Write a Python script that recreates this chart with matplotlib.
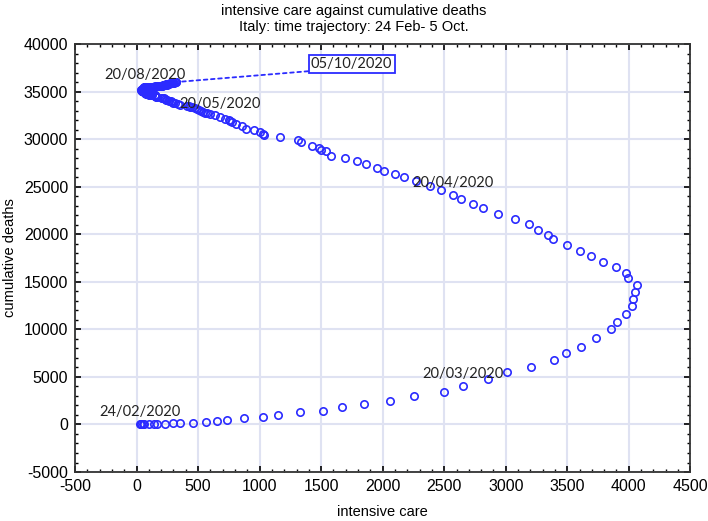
import numpy as np
import pandas as pd
import matplotlib
matplotlib.use("Agg")
import matplotlib.pyplot as plt
from matplotlib.ticker import MultipleLocator

# daily values, Italy, 24 Feb - 5 Oct 2020 (per month)
icu_feb = [27, 35, 36, 56, 64, 105]
icu_mar = [140, 166, 229, 295, 351, 462, 567, 650, 733, 877, 1028, 1153, 1328, 1518, 1672, 1851,
           2060, 2257, 2498, 2655, 2857, 3009, 3204, 3396, 3489, 3612, 3732, 3856, 3906, 3981, 4023]
icu_apr = [4035, 4053, 4068, 3994, 3977, 3898, 3792, 3693, 3605, 3497, 3381, 3343, 3260, 3186, 3079,
           2936, 2812, 2733, 2635, 2573, 2471, 2384, 2267, 2173, 2102, 2009, 1956, 1863, 1795, 1694]
icu_may = [1578, 1539, 1501, 1479, 1427, 1333, 1311, 1168, 1034, 1027, 999, 952, 893, 855, 808, 775,
           762, 749, 716, 676, 640, 595, 572, 553, 541, 521, 505, 489, 475, 450, 435]
icu_jun = [424, 408, 353, 338, 316, 293, 287, 283, 263, 249, 236, 227, 220, 209, 207, 168, 161, 152,
           148, 151, 148, 127, 115, 107, 103, 97, 94, 90, 86, 87]
icu_jul = [79, 77, 74, 71, 69, 68, 71, 72, 65, 64, 65, 62, 66, 65, 67, 57, 60, 60, 56, 49, 48, 49, 49,
           46, 45, 45, 44, 43, 41, 41, 42]
icu_aug = [41, 40, 38, 41, 42, 45, 49, 48, 46, 53, 54, 55, 56, 56, 55, 58, 58, 63, 66, 68, 69, 69, 64,
           66, 69, 74, 79, 86, 94, 107, 109]
icu_sep = [121, 120, 133, 142, 143, 150, 164, 164, 175, 182, 190, 197, 201, 207, 208, 215, 221, 222,
           220, 232, 239, 244, 239, 246, 254, 246, 264, 271, 280, 291]
icu_oct = [297, 303, 309, 319, 323]

deaths_feb = [7, 10, 12, 17, 21, 29]
deaths_mar = [34, 52, 79, 107, 148, 197, 233, 366, 463, 631, 827, 1016, 1266, 1441, 1809, 2158, 2503,
              2978, 3405, 4032, 4825, 5476, 6077, 6820, 7503, 8165, 9134, 10023, 10779, 11591, 12428]
deaths_apr = [13155, 13915, 14681, 15362, 15887, 16523, 17127, 17669, 18279, 18849, 19468, 19899,
              20465, 21067, 21645, 22170, 22745, 23227, 23660, 24114, 24648, 25085, 25549, 25969,
              26384, 26644, 26977, 27359, 27682, 27967]
deaths_may = [28236, 28710, 28884, 29079, 29315, 29684, 29958, 30201, 30395, 30560, 30739, 30911,
              31106, 31368, 31610, 31763, 31908, 32007, 32169, 32330, 32486, 32616, 32735, 32785,
              32877, 32955, 33072, 33142, 33229, 33340, 33415]
deaths_jun = [33475, 33530, 33601, 33689, 33774, 33846, 33899, 33964, 34043, 34114, 34167, 34223,
              34301, 34345, 34371, 34405, 34448, 34514, 34561, 34610, 34634, 34657, 34675, 34644,
              34678, 34708, 34716, 34738, 34744, 34767]
deaths_jul = [34788, 34818, 34833, 34854, 34861, 34869, 34899, 34914, 34926, 34938, 34945, 34954,
              34967, 34984, 34997, 35017, 35028, 35042, 35045, 35058, 35073, 35082, 35092, 35097,
              35102, 35107, 35112, 35123, 35129, 35132, 35141]
deaths_aug = [35146, 35154, 35166, 35171, 35181, 35187, 35190, 35203, 35205, 35209, 35215, 35225,
              35231, 35234, 35392, 35396, 35400, 35405, 35412, 35418, 35427, 35430, 35437, 35441,
              35445, 35458, 35463, 35472, 35473, 35477, 35483]
deaths_sep = [35491, 35497, 35507, 35518, 35534, 35541, 35553, 35563, 35577, 35587, 35597, 35603,
              35610, 35624, 35633, 35645, 35658, 35668, 35692, 35707, 35724, 35738, 35758, 35781,
              35801, 35818, 35835, 35851, 35875, 35894]
deaths_oct = [35918, 35941, 35968, 35986, 36002]

labelled_dates = ["24/02/2020", "20/03/2020", "20/04/2020", "20/05/2020", "20/08/2020"]
last_label = "05/10/2020"

icu = np.array(icu_feb + icu_mar + icu_apr + icu_may + icu_jun + icu_jul + icu_aug + icu_sep + icu_oct)
deaths = np.array(deaths_feb + deaths_mar + deaths_apr + deaths_may + deaths_jun + deaths_jul
                  + deaths_aug + deaths_sep + deaths_oct)
dates = pd.date_range("2020-02-24", periods=len(icu), freq="D").strftime("%d/%m/%Y").tolist()

plt.rcParams['font.family'] = ['Liberation Sans', 'DejaVu Sans']
plt.rcParams['axes.unicode_minus'] = False

fig = plt.figure(figsize=(7.08, 5.21), dpi=100)
ax = fig.add_axes([0.106, 0.094, 0.869, 0.8215])

blue = "#2b2bff"
ax.plot(icu, deaths, linestyle="none", marker="o", markersize=5.3, markerfacecolor="none",
        markeredgecolor=blue, markeredgewidth=1.2, zorder=3)

for d in labelled_dates:
    i = dates.index(d)
    ax.annotate(d, (icu[i], deaths[i]), xytext=(0, 9), textcoords="offset points",
                ha="center", va="center", fontsize=10.5, family=["Lato", "DejaVu Sans"],
                color="#222222", zorder=4)

# boxed label for the last day, with a dotted leader
ax.annotate(last_label, (icu[-1], deaths[-1]), xytext=(1748, 37900), textcoords="data",
            ha="center", va="center", fontsize=10.5, family=["Lato", "DejaVu Sans"], color="#222222",
            bbox=dict(boxstyle="square,pad=0.15", fc="white", ec=blue, lw=1.3),
            arrowprops=dict(arrowstyle="-", color=blue, lw=1.3, linestyle=(0, (2, 2)),
                            shrinkA=0, shrinkB=3, relpos=(0, 0)))

ax.set_xlim(-500, 4500)
ax.set_ylim(-5000, 40000)
ax.xaxis.set_major_locator(MultipleLocator(500))
ax.xaxis.set_minor_locator(MultipleLocator(100))
ax.yaxis.set_major_locator(MultipleLocator(5000))
ax.yaxis.set_minor_locator(MultipleLocator(1000))
ax.tick_params(which="both", direction="in", top=True, right=True, labelsize=11.5, pad=5)
ax.tick_params(which="major", length=4, width=1.2)
ax.tick_params(which="minor", length=2.5, width=1)
ax.grid(True, which="major", color="#dfe2f2", linewidth=1.5)
ax.set_axisbelow(True)
for s in ax.spines.values():
    s.set_linewidth(1.3)
    s.set_color("#333333")

ax.set_xlabel("intensive care", fontsize=10.5)
ax.set_ylabel("cumulative deaths", fontsize=10.5)
ax.xaxis.set_label_coords(0.5, -0.077)
ax.yaxis.set_label_coords(-0.094, 0.5)
fig.text(0.5, 0.979, "intensive care against cumulative deaths", ha="center", va="center", fontsize=10.5)
fig.text(0.5, 0.948, "Italy: time trajectory: 24 Feb- 5 Oct.", ha="center", va="center", fontsize=10.5)

fig.savefig("out.png", dpi=100)
